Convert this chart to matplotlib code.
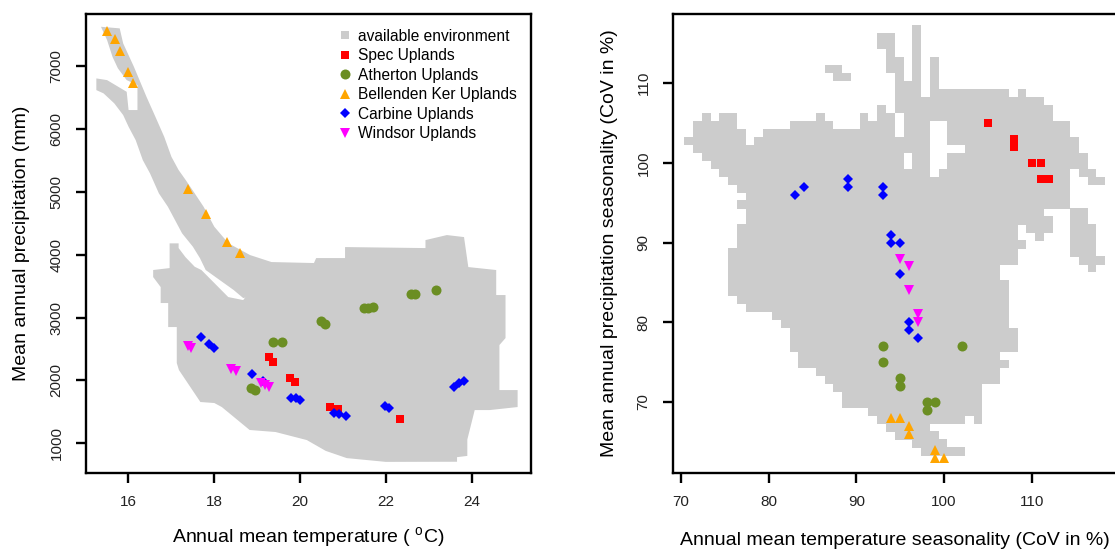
import numpy as np
import matplotlib
matplotlib.use("Agg")
import matplotlib.pyplot as plt
from matplotlib.lines import Line2D

plt.rcParams.update({"font.family": ["Liberation Sans", "DejaVu Sans"],
                     "mathtext.fontset": "custom", "mathtext.rm": "Liberation Sans",
                     "mathtext.it": "Liberation Sans"})

GRAY = "#CCCCCC"
COLORS = {"Spec": "#FF0000", "Atherton": "#6B8E23", "Bellenden": "#FFA500",
          "Carbine": "#0000FF", "Windsor": "#FF00FF"}

# ---- left panel: available environment outline (temp degC, precip mm)
band_t = [15.364, 15.506, 15.632, 15.758, 15.963, 16.214, 16.214, 16.007, 15.963, 15.506, 15.256,
          15.256, 15.424, 15.674, 15.881, 16.007, 16.172, 16.338, 16.506, 16.713, 16.923, 17.089,
          17.254, 17.506, 17.672, 17.804, 18.455, 18.678, 19.503, 19.336, 18.837, 18.336, 18.005,
          17.755, 17.548, 17.338, 17.173, 17.005, 16.837, 16.632, 16.424, 16.131, 15.881, 15.8]
band_p = [7624, 7412, 7147, 6963, 6776, 6697, 6300, 6300, 6590, 6776, 6803, 6617, 6565, 6406, 6220,
          6034, 5822, 5504, 5293, 4975, 4762, 4550, 4339, 4126, 3942, 3756, 3438, 3310, 3438, 3883,
          3994, 4180, 4444, 4762, 4975, 5187, 5346, 5557, 5875, 6193, 6511, 6988, 7360, 7599]
body_t = [16.963, 17.173, 17.173, 17.331, 17.548, 17.704, 18.329, 18.678, 19.329, 20.326, 20.378,
          21.051, 21.051, 22.925, 22.925, 23.424, 23.823, 23.923, 24.573, 24.573, 24.79, 24.79,
          24.648, 24.648, 25.072, 25.072, 24.422, 24.072, 23.9, 23.9, 23.66, 23.66, 22.0, 21.09,
          20.6, 20.16, 19.43, 18.828, 18.179, 18.005, 17.68, 17.18, 17.13, 17.13, 16.93, 16.93,
          16.755, 16.755, 16.58, 16.58, 16.963]
body_p = [4180, 4180, 4105, 3962, 3808, 3756, 3326, 3278, 3883, 3867, 3946, 3946, 4121, 4105, 4232,
          4312, 4280, 3803, 3756, 3358, 3358, 2674, 2563, 1847, 1847, 1577, 1529, 1529, 1060, 800,
          780, 707, 705, 765, 880, 1052, 1180, 1212, 1577, 1641, 1657, 2166, 2277, 2849, 2849, 3231,
          3231, 3485, 3644, 3756, 3787]

# ---- left panel: uplands (temp, precip)
spec_t = [19.29, 19.38, 19.77, 19.88, 20.71, 20.88, 22.32]
spec_p = [2367, 2298, 2033, 1980, 1572, 1540, 1392]
ath_t = [18.85, 18.95, 19.38, 19.59, 20.48, 20.58, 21.50, 21.58, 21.71, 22.58, 22.69, 23.18]
ath_p = [1874, 1848, 2616, 2616, 2950, 2897, 3146, 3146, 3172, 3374, 3374, 3437]
bk_t = [15.5, 15.7, 15.8, 16.0, 16.1, 17.4, 17.8, 18.3, 18.6]
bk_p = [7560, 7424, 7242, 6908, 6734, 5038, 4646, 4205, 4030]
car_t = [17.69, 17.88, 17.99, 18.89, 19.14, 19.79, 19.90, 20.0, 20.79, 20.92, 21.08, 21.98, 22.08,
         23.58, 23.71, 23.82]
car_p = [2695, 2579, 2510, 2102, 1996, 1715, 1715, 1688, 1476, 1466, 1439, 1593, 1567, 1900, 1954, 1991]
win_t = [17.38, 17.46, 18.40, 18.50, 19.09, 19.19, 19.29]
win_p = [2547, 2510, 2176, 2155, 1953, 1927, 1890]

# ---- right panel: available environment on a 1-unit grid
# keys: row (precip seasonality), values: runs of column indices
ENV_X0 = 70.88   # centre of column 0
ENV_Y_OFF = 0.77  # row centre = key + offset
env_rows = {
    116: [(26, 26)],
    115: [(22, 23), (26, 26)],
    114: [(22, 23), (26, 26)],
    113: [(23, 23), (26, 26)],
    112: [(23, 24), (26, 26), (28, 28)],
    111: [(16, 17), (23, 24), (26, 26), (28, 28)],
    110: [(17, 18), (24, 24), (26, 26), (28, 28)],
    109: [(24, 26), (28, 28)],
    108: [(24, 26), (28, 36), (38, 38)],
    107: [(24, 40)],
    106: [(22, 22), (24, 41)],
    105: [(2, 2), (4, 5), (15, 15), (20, 20), (22, 23), (25, 41)],
    104: [(1, 5), (12, 16), (20, 23), (25, 27), (30, 43)],
    103: [(1, 6), (9, 23), (25, 27), (30, 43)],
    102: [(0, 6), (8, 27), (30, 44)],
    101: [(1, 27), (32, 44)],
    100: [(2, 24), (26, 27), (30, 45)],
    99: [(3, 24), (26, 27), (30, 45)],
    98: [(4, 27), (29, 43), (45, 46)],
    97: [(5, 43), (46, 47)],
    96: [(6, 43)],
    95: [(7, 43)],
    94: [(6, 43)],
    93: [(7, 40), (44, 45)],
    92: [(7, 41), (44, 45)],
    91: [(6, 37), (39, 41), (44, 46)],
    90: [(6, 37), (40, 40), (44, 46)],
    89: [(6, 38), (44, 46)],
    88: [(5, 37), (44, 46)],
    87: [(5, 37), (45, 47)],
    86: [(5, 35), (46, 46)],
    85: [(5, 35)],
    84: [(5, 36)],
    83: [(5, 36)],
    82: [(6, 36)],
    81: [(7, 36)],
    80: [(10, 36)],
    79: [(11, 36)],
    78: [(12, 37)],
    77: [(12, 37)],
    76: [(12, 37)],
    75: [(13, 35)],
    74: [(13, 36)],
    73: [(15, 35)],
    72: [(16, 35)],
    71: [(17, 33)],
    70: [(18, 33)],
    69: [(18, 33)],
    68: [(21, 33)],
    67: [(22, 31), (33, 33)],
    66: [(23, 27)],
    65: [(24, 28)],
    64: [(26, 29)],
    63: [(27, 31)],
}

# ---- right panel: uplands (temp seasonality, precip seasonality)
spec_ts = [105, 108, 108, 110, 111, 111, 112]
spec_ps = [105, 103, 102, 100, 100, 98, 98]
ath_ts = [93, 93, 102, 95, 95, 98, 99, 98]
ath_ps = [77, 75, 77, 73, 72, 70, 70, 69]
bk_ts = [94, 95, 96, 96, 99, 99, 100]
bk_ps = [68, 68, 67, 66, 64, 63, 63]
car_ts = [83, 84, 89, 89, 93, 93, 94, 94, 95, 95, 96, 96, 97]
car_ps = [96, 97, 98, 97, 97, 96, 91, 90, 90, 86, 80, 79, 78]
win_ts = [95, 96, 96, 97, 97]
win_ps = [88, 87, 84, 81, 80]

MK = {"Spec": ("s", 6.0), "Atherton": ("o", 7.2), "Bellenden": ("^", 7.2),
      "Carbine": ("D", 4.8), "Windsor": ("v", 7.2)}

fig = plt.figure(figsize=(11.15, 5.52), dpi=100)
axL = fig.add_axes([0.0771, 0.1431, 0.3988, 0.8315])
axR = fig.add_axes([0.6033, 0.1431, 0.3988, 0.8315])


def pts(ax, key, x, y):
    m, s = MK[key]
    ax.plot(x, y, ls="none", marker=m, ms=s, color=COLORS[key], mew=0, zorder=3)


# left
axL.fill(band_t, band_p, color=GRAY, lw=0, zorder=1)
axL.fill(body_t, body_p, color=GRAY, lw=0, zorder=1)
pts(axL, "Spec", spec_t, spec_p)
pts(axL, "Atherton", ath_t, ath_p)
pts(axL, "Bellenden", bk_t, bk_p)
pts(axL, "Carbine", car_t, car_p)
pts(axL, "Windsor", win_t, win_p)
axL.set_xlim(15.014, 25.375)
axL.set_ylim(528, 7827)
axL.set_xticks([16, 18, 20, 22, 24])
axL.set_yticks([1000, 2000, 3000, 4000, 5000, 6000, 7000])
axL.set_xlabel(r"Annual mean temperature ( $^{\mathrm{o}}$C)", fontsize=14)
axL.set_ylabel("Mean annual precipitation (mm)", fontsize=14)
axL.xaxis.set_label_coords(0.5, -0.139)
axL.yaxis.set_label_coords(-0.1446, 0.5)

# right
for row, runs in env_rows.items():
    for c0, c1 in runs:
        axR.barh(row + ENV_Y_OFF, c1 - c0 + 1, left=ENV_X0 + c0 - 0.5, height=1.04,
                 color=GRAY, lw=0, zorder=1)
pts(axR, "Spec", spec_ts, spec_ps)
pts(axR, "Atherton", ath_ts, ath_ps)
pts(axR, "Bellenden", bk_ts, bk_ps)
pts(axR, "Carbine", car_ts, car_ps)
pts(axR, "Windsor", win_ts, win_ps)
axR.set_xlim(69.05, 119.76)
axR.set_ylim(61.07, 118.7)
axR.set_xticks([70, 80, 90, 100, 110])
axR.set_yticks([70, 80, 90, 100, 110])
axR.set_xlabel("Annual mean temperature seasonality (CoV in %)", fontsize=14)
axR.set_ylabel("Mean annual precipitation seasonality (CoV in %)", fontsize=14)
axR.xaxis.set_label_coords(0.5, -0.146)
axR.yaxis.set_label_coords(-0.143, 0.5)

for ax in (axL, axR):
    ax.xaxis.label.set_va("center")
    ax.yaxis.label.set_va("center")
    for sp in ax.spines.values():
        sp.set_linewidth(1.7)
    ax.tick_params(direction="out", length=7.5, width=1.7, labelsize=11,
                   labelcolor="#222222", pad=8.5)
    plt.setp(ax.get_yticklabels(), rotation=90, va="center")

labels = ["available environment", "Spec Uplands", "Atherton Uplands",
          "Bellenden Ker Uplands", "Carbine Uplands", "Windsor Uplands"]
handles = [Line2D([0], [0], ls="none", marker="s", ms=6.0, color=GRAY, mew=0)]
for key in ["Spec", "Atherton", "Bellenden", "Carbine", "Windsor"]:
    m, s = MK[key]
    handles.append(Line2D([0], [0], ls="none", marker=m, ms=s, color=COLORS[key], mew=0))
axL.legend(handles, labels, loc="upper left", bbox_to_anchor=(0.566, 0.968), frameon=False,
           fontsize=11.2, handlelength=1.0, handletextpad=0.33, borderpad=0, borderaxespad=0,
           labelspacing=0.29)

fig.savefig("out.png", dpi=100)
